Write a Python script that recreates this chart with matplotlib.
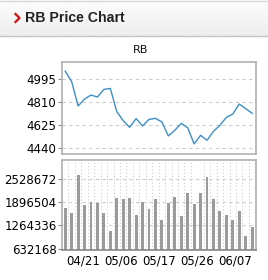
import numpy as np
import matplotlib
matplotlib.use("Agg")
import matplotlib.pyplot as plt

# price line (30 sessions)
price = [5059, 4974, 4779, 4835, 4867, 4851, 4912, 4920, 4734, 4661,
         4608, 4678, 4619, 4672, 4680, 4651, 4539, 4584, 4640, 4605,
         4475, 4544, 4504, 4576, 4624, 4688, 4715, 4795, 4758, 4720]
# volume bars
volume = [1730000, 1594000, 2637000, 1821000, 1902000, 1884000, 1594000, 1104000, 2020000, 1984000,
          2011000, 1540000, 1893000, 1703000, 1993000, 1413000, 1884000, 2039000, 1521000, 2138000,
          1857000, 2148000, 2574000, 1984000, 1657000, 1558000, 1413000, 1666000, 977000, 1231000]
price_ticks = [4440, 4625, 4810, 4995]
vol_ticks = [632168, 1264336, 1896504, 2528672]
date_labels = ["04/21", "05/06", "05/17", "05/26", "06/07"]
date_pos = [2.8, 8.7, 14.6, 20.5, 26.4]

x = np.arange(len(price))
W, H = 268, 280
fig = plt.figure(figsize=(W / 100, H / 100), dpi=100)
fig.patch.set_facecolor("white")

# header bar
hdr = fig.add_axes([0, 1 - 36 / H, 1, 36 / H])
grad = np.linspace(0.99, 0.93, 50).reshape(-1, 1)
hdr.imshow(grad, aspect="auto", cmap="gray", vmin=0, vmax=1, extent=[0, 1, 0, 1])
hdr.set_xlim(0, 1)
hdr.set_ylim(0, 1)
hdr.axis("off")
fig.add_artist(plt.Line2D([0, 1], [1 - 36 / H, 1 - 36 / H], color="#c4c4c4", lw=1))
fig.add_artist(plt.Line2D([0, 1], [1 - 0.5 / H, 1 - 0.5 / H], color="#d8d8d8", lw=1))
# red chevron
fig.add_artist(plt.Line2D([15.5 / W, 19.5 / W, 15.5 / W],
                          [1 - 14 / H, 1 - 18 / H, 1 - 22 / H], color="#d01010", lw=1.6))
fig.text(25 / W, 1 - 18.5 / H, "RB Price Chart", color="#222222", fontsize=10.2,
         fontweight="bold", va="center", ha="left", family="Liberation Sans")
fig.text(141 / W, 1 - 50 / H, "RB", fontsize=8, va="center", ha="center", color="#111111")

spine_c = "#b0b0b0"
grid_c = "#cccccc"

ax1 = fig.add_axes([62 / W, 1 - 154 / H, 194 / W, 92 / H])
ax1.plot(x, price, color="#3d8fc6", lw=1)
ax1.set_xlim(-0.5, 29.6)
ax1.set_ylim(4394, 5132)
ax1.set_yticks(price_ticks)
ax1.set_yticklabels([str(v) for v in price_ticks])
ax1.set_xticks([])
ax1.grid(axis="y", color=grid_c, ls=(0, (3, 3)), lw=0.8)

ax2 = fig.add_axes([62 / W, 1 - 250 / H, 194 / W, 90 / H])
ax2.bar(x, volume, width=0.45, color="#9b9b9b")
ax2.set_xlim(-0.5, 29.6)
ax2.set_ylim(597000, 3044000)
ax2.set_yticks(vol_ticks)
ax2.set_yticklabels([str(v) for v in vol_ticks])
ax2.set_xticks(date_pos)
ax2.set_xticklabels(date_labels)
ax2.set_xticks(x + 0.5, minor=True)
ax2.grid(axis="y", color=grid_c, ls=(0, (3, 3)), lw=0.8)
ax2.grid(axis="x", which="minor", color=grid_c, ls=(0, (1, 2)), lw=0.8)
ax2.tick_params(axis="x", which="both", length=0)

for ax in (ax1, ax2):
    ax.set_axisbelow(True)
    for s in ax.spines.values():
        s.set_color(spine_c)
        s.set_linewidth(1.2)
    ax.tick_params(axis="y", length=3, width=0.8, color="#888888", labelsize=8.5, pad=1)
    ax.tick_params(axis="x", labelsize=8.5, pad=3)
ax2.spines["bottom"].set_color("#888888")

fig.savefig("out.png", dpi=100)
